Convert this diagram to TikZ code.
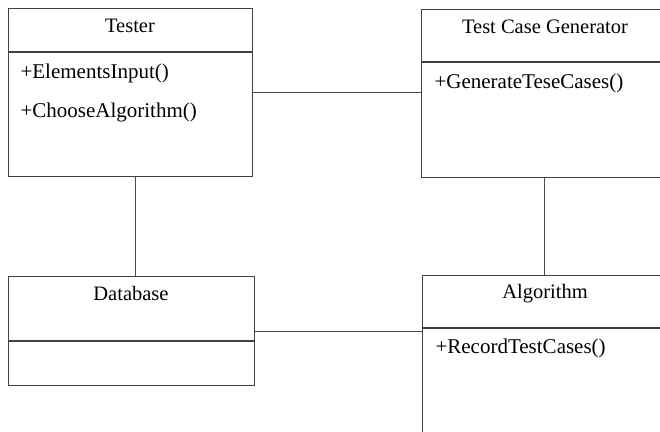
\documentclass[tikz,border=0pt]{standalone}
\usepackage{fontspec}
\setmainfont{Liberation Serif}
\begin{document}
\begin{tikzpicture}[
    x=1pt, y=-1pt,
    classbox/.style={
        rectangle,
        draw=black!75,
        line width=1.2pt,
        inner sep=0pt,
        anchor=north west
    },
    divider/.style={draw=black!75, line width=1.2pt},
    link/.style={draw=black!70, line width=1.2pt},
    title/.style={anchor=base, font=\fontsize{20.5}{24}\selectfont},
    method/.style={anchor=base west, font=\fontsize{21}{24}\selectfont}
]

\useasboundingbox (0,0) rectangle (660,431);
\clip (0,0) rectangle (660,431);

\node[classbox, minimum width=244pt, minimum height=168pt] (tester) at (8,8) {};
\node[classbox, minimum width=249pt, minimum height=168pt] (generator) at (421,9) {};
\node[classbox, minimum width=246pt, minimum height=109pt] (database) at (8,276) {};
\node[classbox, minimum width=248pt, minimum height=200pt] (algorithm) at (422,275) {};

\draw[divider] (8,52) -- (252,52);
\draw[divider] (421,62) -- (670,62);
\draw[divider] (8,341) -- (254,341);
\draw[divider] (422,328) -- (670,328);

\node[title] (testerName) at (130,32) {Tester};
\node[method] (elementsInput) at (17,78) {+ElementsInput()};
\node[method] (chooseAlgorithm) at (17,117) {+ChooseAlgorithm()};

\node[title] (generatorName) at (545,33) {Test Case Generator};
\node[method] (generateCases) at (431,88) {+GenerateTeseCases()};

\node[title] (databaseName) at (131,300) {Database};

\node[title] (algorithmName) at (545,298) {Algorithm};
\node[method] (recordCases) at (432,353) {+RecordTestCases()};

\draw[link] (tester.east) -- (tester.east -| generator.west);
\draw[link] ([xshift=5pt]tester.south) -- ([xshift=5pt]tester.south |- database.north);
\draw[link] ([xshift=-2pt]generator.south) -- ([xshift=-2pt]generator.south |- algorithm.north);
\draw[link] (database.east) -- (database.east -| algorithm.west);

\end{tikzpicture}
\end{document}
